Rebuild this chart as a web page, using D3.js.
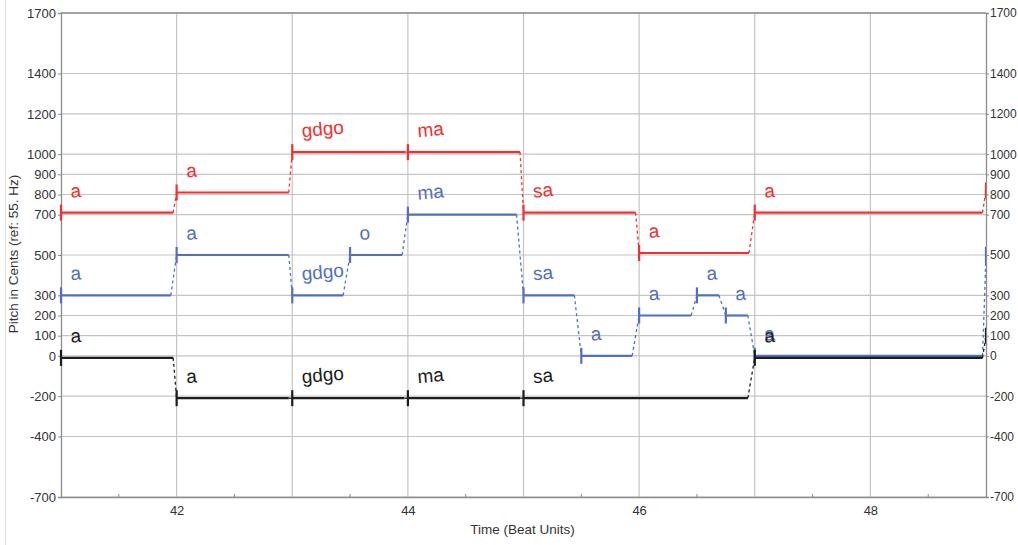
<!DOCTYPE html>
<html><head><meta charset="utf-8">
<script src="https://cdn.jsdelivr.net/npm/d3@7"></script>
<style>body{margin:0;background:#fff}svg{display:block;font-family:"Liberation Sans",Arial,sans-serif}</style>
</head><body><svg id="c" width="1018" height="545"></svg>
<script>
// ---- data ----
const redStarts = [41, 42, 43, 44, 45, 46, 47, 49];
const redEnds   = [41.97, 42.97, 43.98, 44.97, 45.97, 46.95, 48.97, 49.5];
const redPitch  = [710, 810, 1010, 1010, 710, 510, 710, 820];
const redLabels = ["a", "a", "gdgo", "ma", "sa", "a", "a", ""];

const blueStarts = [41, 42, 43, 43.5, 44, 45, 45.5, 46, 46.5, 46.75, 47, 49];
const blueEnds   = [41.95, 42.97, 43.44, 43.95, 44.94, 45.44, 45.94, 46.45, 46.69, 46.94, 48.97, 49.5];
const bluePitch  = [300, 500, 300, 500, 700, 300, 0, 200, 300, 200, 0, 500];
const blueLabels = ["a", "a", "gdgo", "o", "ma", "sa", "a", "a", "a", "a", "a", ""];

const blackStarts = [41, 42, 43, 44, 45, 47, 49];
const blackEnds   = [41.97, 42.97, 43.97, 44.97, 46.94, 48.97, 49.5];
const blackPitch  = [-10, -210, -210, -210, -210, -10, 100];
const blackLabels = ["a", "a", "gdgo", "ma", "sa", "a", ""];

const yTicks = [-700, -400, -200, 0, 100, 200, 300, 500, 700, 800, 900, 1000, 1200, 1400, 1700];
const xLabelTicks = [42, 44, 46, 48];
const xGridTicks = [42, 43, 44, 45, 46, 47, 48];
const xMinorTicks = [41.5, 42.5, 43.5, 44.5, 45.5, 46.5, 47.5, 48.5];

// ---- layout ----
const L = 61, R = 986, T = 13, B = 497;
const svg = d3.select("#c");
const x = d3.scaleLinear().domain([41, 49]).range([L, R]);
const y = d3.scaleLinear().domain([-700, 1700]).range([B, T]);

svg.append("line").attr("x1", 5.5).attr("x2", 5.5).attr("y1", 0).attr("y2", 545).attr("stroke", "#e0e0e0");

// grid
const grid = svg.append("g");
grid.selectAll("line.h").data(yTicks).join("line")
  .attr("x1", L).attr("x2", R).attr("y1", d => y(d)).attr("y2", d => y(d))
  .attr("stroke", "#c4c4c4").attr("stroke-width", 1.2);
grid.selectAll("line.v").data(xGridTicks).join("line")
  .attr("y1", T).attr("y2", B).attr("x1", d => x(d)).attr("x2", d => x(d))
  .attr("stroke", "#c4c4c4").attr("stroke-width", 1.2);

// axes
const fmt = d => d < 0 ? "-" + (-d) : String(d);
const axL = d3.axisLeft(y).tickValues(yTicks).tickSize(3).tickPadding(2).tickFormat(fmt);
const axR = d3.axisRight(y).tickValues(yTicks).tickSize(3).tickPadding(1).tickFormat(fmt);
const axB = d3.axisBottom(x).tickValues(xLabelTicks).tickSize(0).tickPadding(9);
function style(fs) {
  return g => {
    g.select(".domain").attr("stroke", "#8c8c8c").attr("stroke-width", 1.3);
    g.selectAll(".tick line").attr("stroke", "#8c8c8c");
    g.selectAll("text").attr("fill", "#333").attr("font-size", fs).attr("font-family", '"Liberation Sans",Arial,sans-serif');
  };
}
svg.append("g").attr("transform", `translate(${L},0)`).call(axL).call(style(13));
svg.append("g").attr("transform", `translate(${R},0)`).call(axR).call(style(12));
svg.append("g").attr("transform", `translate(0,${B})`).call(axB).call(style(13))
  .call(g => g.select(".domain").attr("d", `M${L},0.5H${R}`));
svg.append("line").attr("x1", L).attr("x2", R).attr("y1", T).attr("y2", T).attr("stroke", "#8c8c8c").attr("stroke-width", 1.3);
svg.append("g").selectAll("line").data(xMinorTicks).join("line")
  .attr("x1", d => x(d)).attr("x2", d => x(d)).attr("y1", B).attr("y2", B - 3)
  .attr("stroke", "#8c8c8c");

// titles
svg.append("text").attr("x", (L + R) / 2 - 1).attr("y", 534).attr("text-anchor", "middle")
  .attr("font-size", 13.5).attr("fill", "#333").text("Time (Beat Units)");
svg.append("text").attr("transform", "translate(18,254) rotate(-90)").attr("text-anchor", "middle")
  .attr("font-size", 13.5).attr("fill", "#333").text("Pitch in Cents (ref: 55. Hz)");

// clip
svg.append("clipPath").attr("id", "clip").append("rect")
  .attr("x", L - 2).attr("y", 0).attr("width", R - L + 2).attr("height", 545);

function drawSeries(starts, ends, pitch, labels, color) {
  const g = svg.append("g").attr("clip-path", "url(#clip)");
  const segs = starts.map((s, i) => ({ s, e: ends[i], p: pitch[i], lab: labels[i] }));
  g.selectAll("line.c").data(segs.slice(0, -1)).join("line")
    .attr("x1", (d) => x(d.e)).attr("y1", d => y(d.p))
    .attr("x2", (d, i) => x(segs[i + 1].s)).attr("y2", (d, i) => y(segs[i + 1].p))
    .attr("stroke", color).attr("stroke-width", 1.3).attr("stroke-dasharray", "3,3");
  g.selectAll("line.s").data(segs).join("line")
    .attr("x1", d => x(d.s)).attr("x2", d => x(d.e)).attr("y1", d => y(d.p)).attr("y2", d => y(d.p))
    .attr("stroke", color).attr("stroke-width", 2.2);
  g.selectAll("line.t").data(segs).join("line")
    .attr("x1", d => x(d.s)).attr("x2", d => x(d.s)).attr("y1", d => y(d.p) - 8).attr("y2", d => y(d.p) + 8)
    .attr("stroke", color).attr("stroke-width", 2.2);
  g.selectAll("text").data(segs).join("text")
    .attr("transform", d => `translate(${x(d.s) + 10},${y(d.p) - 15}) rotate(-5)`)
    .attr("font-size", 19).attr("fill", color).text(d => d.lab);
}
drawSeries(redStarts, redEnds, redPitch, redLabels, "#f23030");
drawSeries(blueStarts, blueEnds, bluePitch, blueLabels, "#5170c2");
drawSeries(blackStarts, blackEnds, blackPitch, blackLabels, "#1c1c1c");
</script></body></html>
